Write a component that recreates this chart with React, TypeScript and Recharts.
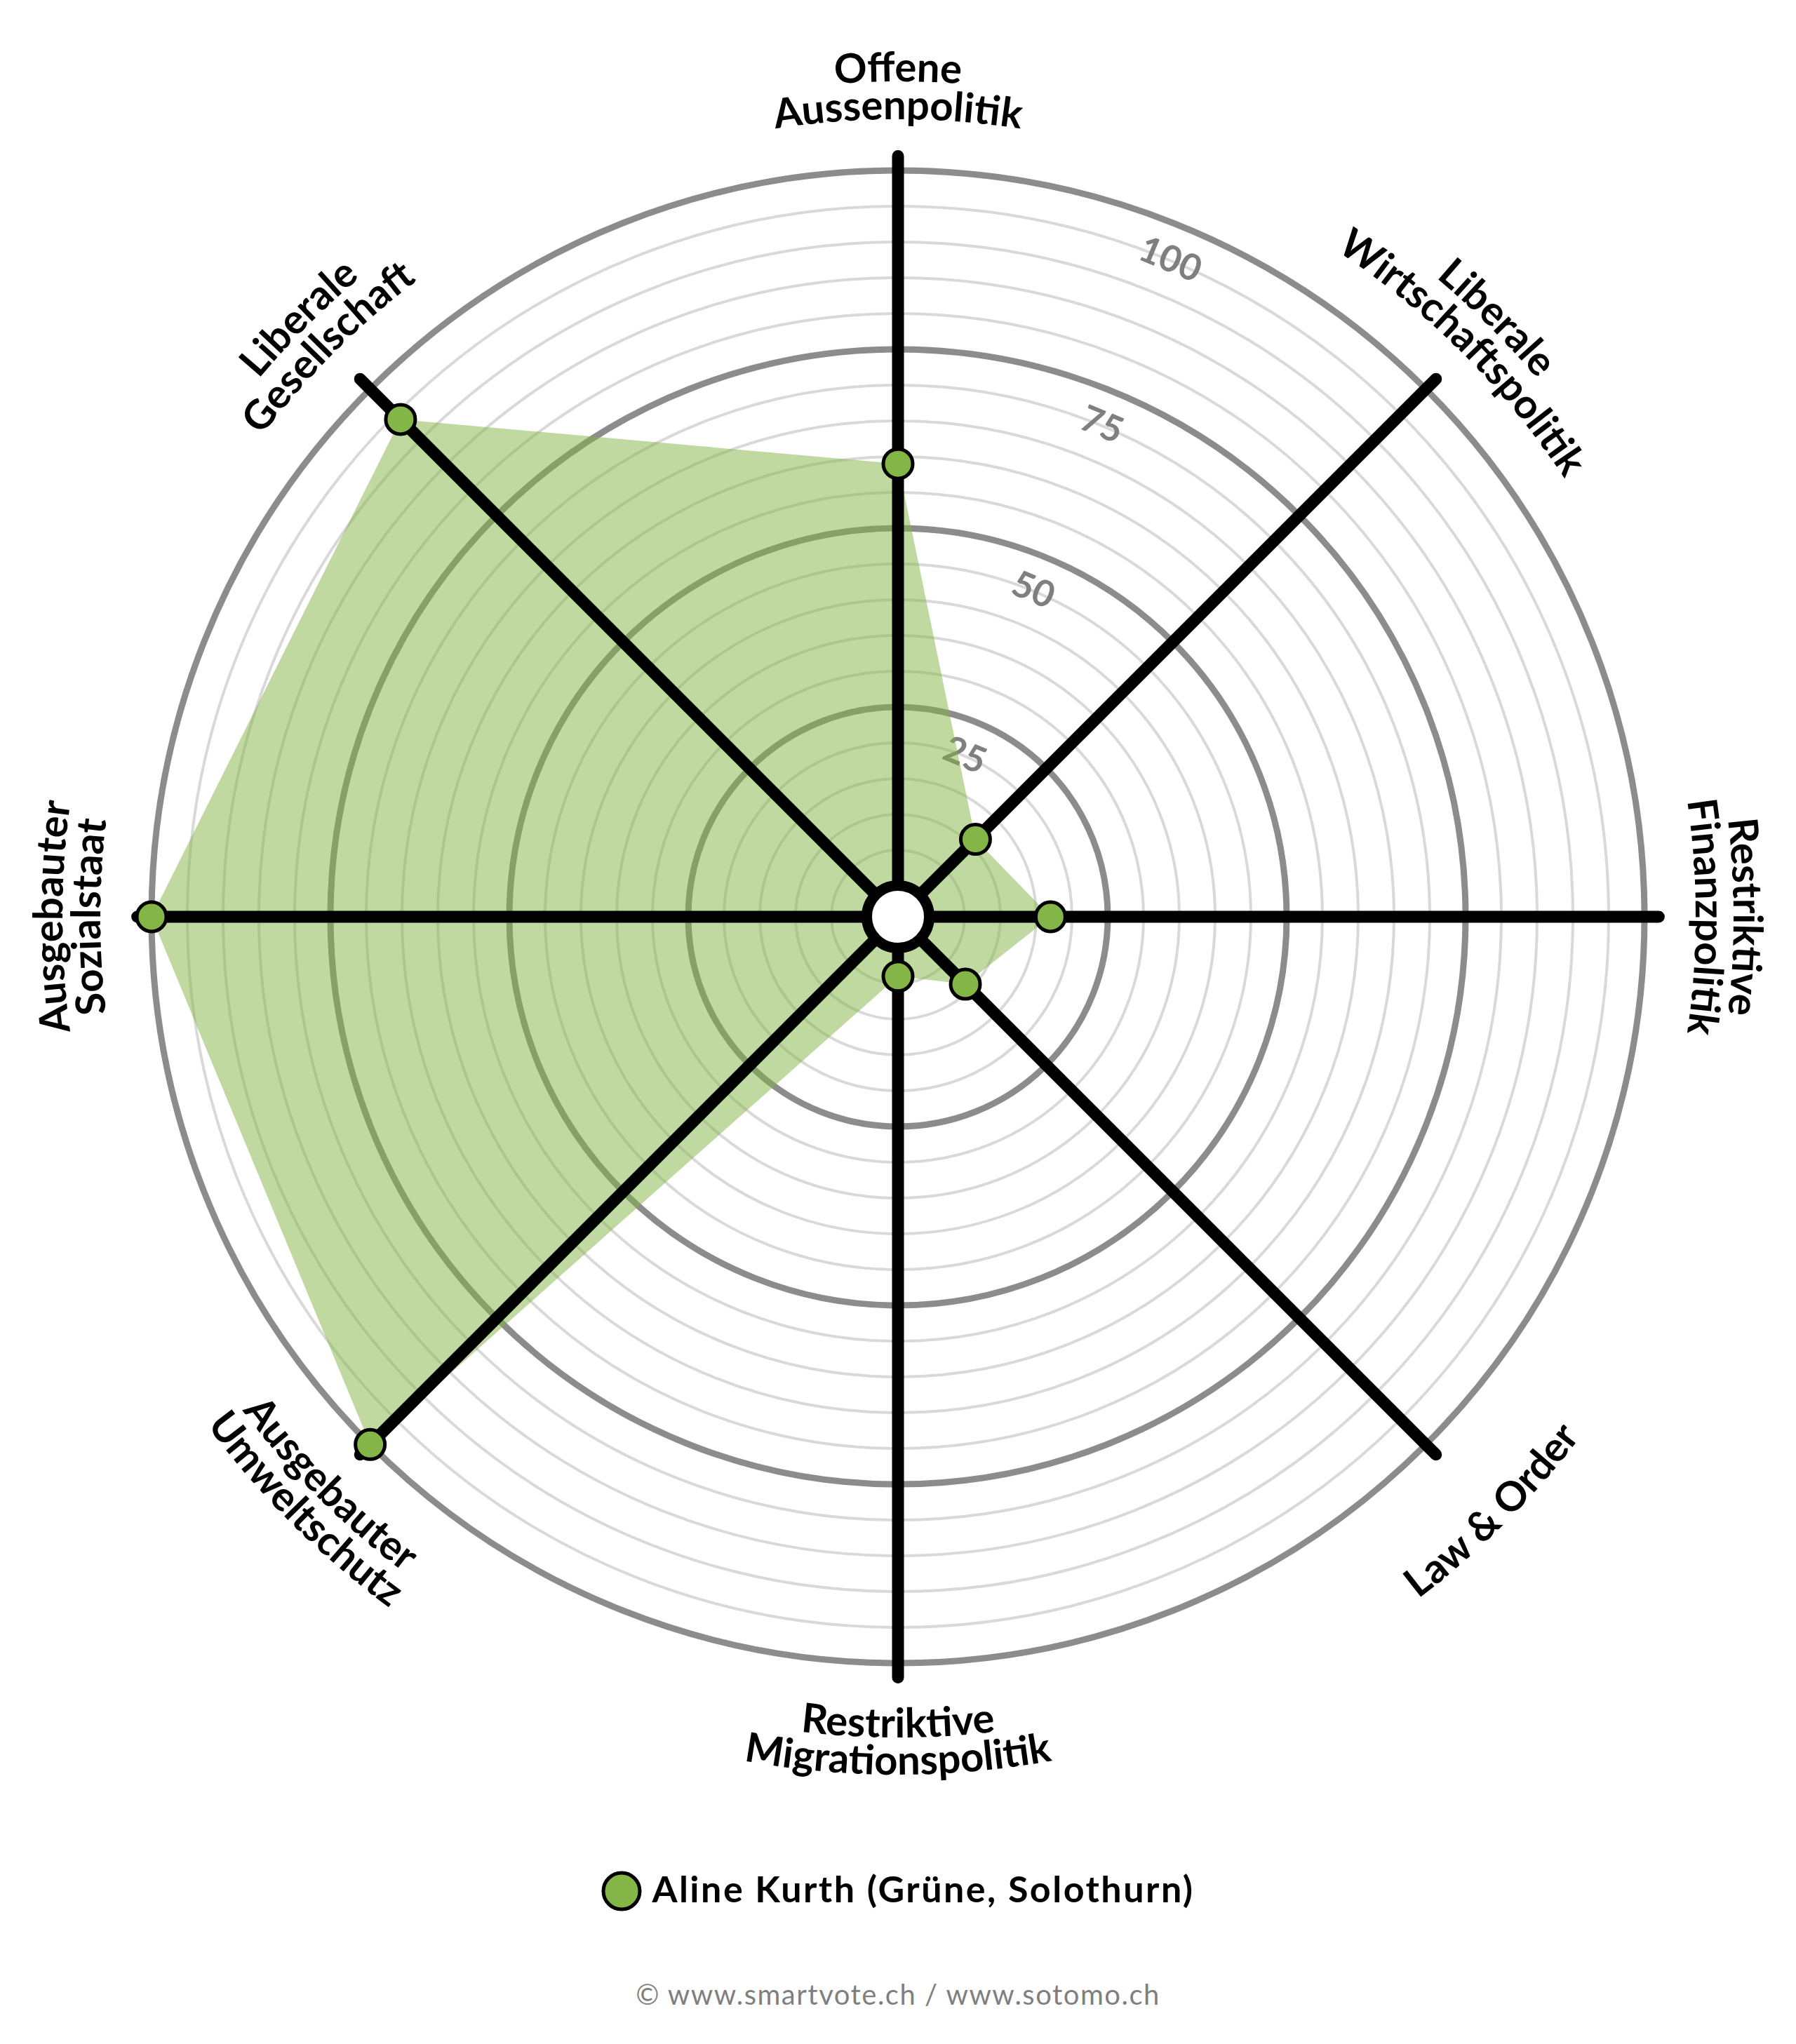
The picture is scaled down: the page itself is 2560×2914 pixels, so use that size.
import { Legend, PolarAngleAxis, PolarGrid, PolarRadiusAxis, Radar, RadarChart } from 'recharts';

// axes clockwise from the top, '\n' marks the label line break
const categories = [
  'Offene\nAussenpolitik',
  'Liberale\nWirtschaftspolitik',
  'Restriktive\nFinanzpolitik',
  'Law & Order',
  'Restriktive\nMigrationspolitik',
  'Ausgebauter\nUmweltschutz',
  'Ausgebauter\nSozialstaat',
  'Liberale\nGesellschaft',
];
const values = [59, 11, 17, 9, 4, 100, 100, 94];
const seriesName = 'Aline Kurth (Grüne, Solothurn)';
const radiusTicks = [25, 50, 75, 100];
const minorRings = [5, 10, 15, 20, 30, 35, 40, 45, 55, 60, 65, 70, 80, 85, 90, 95];
const footer = '© www.smartvote.ch / www.sotomo.ch';

const data = categories.map((axis, i) => ({ axis, value: values[i] }));

const W = 2560;
const H = 2914;
const CX = 1280;
const CY = 1307;
const INNER = 44;
const UNIT = 10.2;
const MAX = 102;
const OUTER = INNER + MAX * UNIT;
const rOf = (v: number) => INNER + v * UNIT;
const RADIUS_ANGLE = 67.5;

const GREEN = '#84b547';
const FONT = 'Lato, "Open Sans", sans-serif';

const polar = (r: number, deg: number) => {
  const a = (deg * Math.PI) / 180;
  return { x: CX + r * Math.cos(a), y: CY - r * Math.sin(a) };
};

const AngleTick = (props: any) => {
  const { payload, index } = props;
  const theta = (((payload.coordinate as number) % 360) + 360) % 360;
  const lines = String(payload.value).split('\n');
  const upper = theta <= 180.01;
  const n = lines.length;
  return (
    <g>
      {lines.map((line, i) => {
        const r = upper ? 1137 + 54 * (n - 1 - i) : 1223 - 53 * (n - 1 - i);
        const p1 = polar(r, upper ? theta + 80 : theta - 80);
        const p2 = polar(r, upper ? theta - 80 : theta + 80);
        const id = `axis-label-${index}-${i}`;
        return (
          <g key={id}>
            <path id={id} d={`M ${p1.x} ${p1.y} A ${r} ${r} 0 0 ${upper ? 1 : 0} ${p2.x} ${p2.y}`} fill="none" stroke="none" />
            <text fontFamily={FONT} fontWeight={700} fontSize={58} fill="#000">
              <textPath href={`#${id}`} startOffset="50%" textAnchor="middle">
                {line}
              </textPath>
            </text>
          </g>
        );
      })}
    </g>
  );
};

const RadiusTick = (props: any) => {
  const { x, y, payload } = props;
  const a = (RADIUS_ANGLE * Math.PI) / 180;
  const tx = x - 47 * Math.cos(a);
  const ty = y + 47 * Math.sin(a);
  return (
    <text
      x={tx}
      y={ty}
      transform={`rotate(${90 - RADIUS_ANGLE}, ${tx}, ${ty})`}
      textAnchor="middle"
      dominantBaseline="central"
      fontFamily={FONT}
      fontWeight={700}
      fontSize={52}
      fill="#7f7f7f"
    >
      {payload.value}
    </text>
  );
};

const LegendContent = () => (
  <div style={{ display: 'flex', justifyContent: 'center', alignItems: 'center', width: W }}>
    <svg width={58} height={58}>
      <circle cx={29} cy={29} r={26} fill={GREEN} stroke="#000" strokeWidth={5} />
    </svg>
    <span
      style={{
        marginLeft: 14,
        position: 'relative',
        top: -4,
        fontFamily: FONT,
        fontWeight: 700,
        fontSize: 52,
        lineHeight: '52px',
        letterSpacing: 2.5,
        color: '#000',
      }}
    >
      {seriesName}
    </span>
  </div>
);

export default function App() {
  return (
    <div style={{ position: 'absolute', left: 0, top: 0, width: W, height: H, background: '#fff' }}>
      <RadarChart
        width={W}
        height={H}
        data={data}
        cx={CX}
        cy={CY}
        innerRadius={INNER}
        outerRadius={OUTER}
        margin={{ top: 0, right: 0, bottom: 0, left: 0 }}
      >
        <PolarGrid gridType="circle" radialLines={false} polarRadius={minorRings.map(rOf)} stroke="#d9d9d9" strokeWidth={4} zIndex={-100} />
        <PolarGrid gridType="circle" radialLines={false} polarRadius={radiusTicks.map(rOf)} stroke="#8c8c8c" strokeWidth={9} zIndex={-90} />
        <PolarRadiusAxis
          angle={RADIUS_ANGLE}
          domain={[0, MAX]}
          ticks={radiusTicks}
          axisLine={false}
          tickLine={false}
          tick={(p: any) => <RadiusTick {...p} />}
          zIndex={-80}
        />
        <Radar
          name={seriesName}
          dataKey="value"
          fill="#80b443"
          fillOpacity={0.5}
          stroke="none"
          dot={false}
          isAnimationActive={false}
          zIndex={-60}
        />
        <PolarGrid gridType="circle" polarRadius={[]} radialLines stroke="#000" strokeWidth={17} strokeLinecap="round" zIndex={-40} />
        <circle cx={CX} cy={CY} r={44.5} fill="#fff" stroke="#000" strokeWidth={15} />
        <Radar
          dataKey="value"
          fill="none"
          stroke="none"
          legendType="none"
          dot={{ r: 21, fill: GREEN, stroke: '#000', strokeWidth: 5, fillOpacity: 1 }}
          isAnimationActive={false}
        />
        <PolarAngleAxis dataKey="axis" axisLine={false} tickLine={false} tick={(p: any) => <AngleTick {...p} />} />
        <Legend verticalAlign="top" align="left" wrapperStyle={{ top: 2667, left: 0, width: W }} content={() => <LegendContent />} />
      </RadarChart>
      <div
        style={{
          position: 'absolute',
          left: 0,
          top: 2823,
          width: W,
          textAlign: 'center',
          fontFamily: FONT,
          fontWeight: 400,
          fontSize: 40,
          lineHeight: '40px',
          letterSpacing: 1.5,
          color: '#7f7f7f',
        }}
      >
        {footer}
      </div>
    </div>
  );
}
